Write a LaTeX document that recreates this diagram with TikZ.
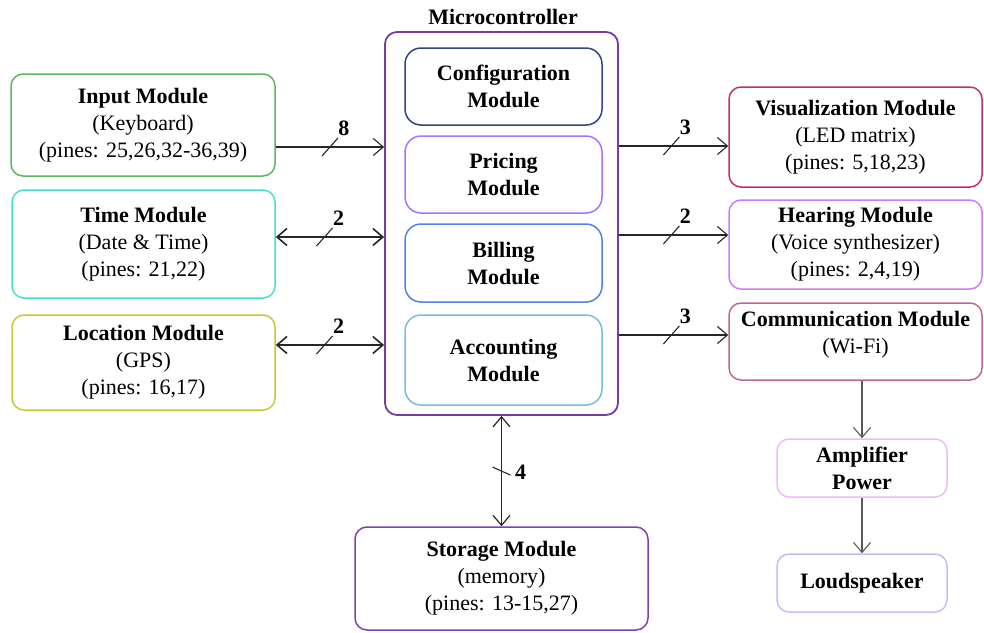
\documentclass[tikz,border=0pt]{standalone}
\usepackage{fontspec}
\setmainfont{Liberation Serif}
\usetikzlibrary{arrows.meta,calc}
\definecolor{cin}{RGB}{95,180,95}
\definecolor{ctime}{RGB}{70,225,205}
\definecolor{cloc}{RGB}{200,200,50}
\definecolor{cmic}{RGB}{120,60,160}
\definecolor{ccfg}{RGB}{55,65,135}
\definecolor{cpri}{RGB}{170,115,250}
\definecolor{cbil}{RGB}{85,130,230}
\definecolor{cacc}{RGB}{115,190,220}
\definecolor{cvis}{RGB}{200,45,105}
\definecolor{chea}{RGB}{200,125,250}
\definecolor{ccom}{RGB}{190,105,145}
\definecolor{csto}{RGB}{130,65,170}
\definecolor{camp}{RGB}{240,185,250}
\definecolor{clou}{RGB}{190,190,250}
\begin{document}
\begin{tikzpicture}[x=0.5pt,y=-0.5pt,font=\fontsize{11}{13.5}\selectfont,
  box/.style={draw,rounded corners=6pt,line width=0.75pt,align=center,inner sep=0pt},
  inbox/.style={box,rounded corners=8pt,minimum width=98.5pt},
  ar/.style={-{Straight Barb[length=5pt,width=8.5pt]},line width=0.55pt,draw=black!85},
  dar/.style={{Straight Barb[length=5pt,width=8.5pt]}-{Straight Barb[length=5pt,width=8.5pt]},line width=0.8pt,draw=black!85},
  gar/.style={ar,draw=black!65},
  slashln/.style={line width=0.55pt,draw=black!85},
  buslbl/.style={font=\fontsize{11}{13}\selectfont\bfseries,inner sep=0pt}]
\useasboundingbox (0,0) rectangle (984,632);

% left modules
\node[box,draw=cin,minimum width=132pt,minimum height=51pt] (inp) at (143,125)
  {\textbf{Input Module}\\(Keyboard)\\(pines: 25,26,32-36,39)};
\node[box,draw=ctime,minimum width=131.5pt,minimum height=54pt] (tim) at (143.5,244)
  {\textbf{Time Module}\\(Date \& Time)\\(pines: 21,22)};
\node[box,draw=cloc,minimum width=131.5pt,minimum height=47.5pt] (loc) at (143.5,362.5)
  {\textbf{Location Module}\\(GPS)\\(pines: 16,17)};

% microcontroller
\node[box,draw=cmic,line width=0.9pt,minimum width=116.5pt,minimum height=191.5pt] (mic) at (501.5,223.5) {};
\node[font=\fontsize{11}{13}\selectfont\bfseries,inner sep=0pt] (miclbl) at (503,17) {Microcontroller};
\node[inbox,draw=ccfg,minimum height=38.5pt] (cfg) at (503.5,86.5) {\textbf{Configuration}\\\textbf{Module}};
\node[inbox,draw=cpri,minimum height=38.5pt] (pri) at (503.5,174.5) {\textbf{Pricing}\\\textbf{Module}};
\node[inbox,draw=cbil,minimum height=39pt] (bil) at (503.5,263) {\textbf{Billing}\\\textbf{Module}};
\node[inbox,draw=cacc,minimum height=45pt] (acc) at (503.5,360) {\textbf{Accounting}\\\textbf{Module}};

% right modules
\node[box,draw=cvis,minimum width=126.5pt,minimum height=50pt] (vis) at (855.5,137)
  {\textbf{Visualization Module}\\(LED matrix)\\(pines: 5,18,23)};
\node[box,draw=chea,minimum width=126.5pt,minimum height=44.5pt] (hea) at (855.5,244.5)
  {\textbf{Hearing Module}\\(Voice synthesizer)\\(pines: 2,4,19)};
\node[box,draw=ccom,minimum width=126.5pt,minimum height=38.5pt] (com) at (855.5,341.5) {};
\node[align=center,inner sep=0pt] (comtxt) at (855.5,335) {\textbf{Communication Module}\\(Wi-Fi)};
\node[box,draw=camp,minimum width=85pt,minimum height=29pt] (amp) at (862,468) {\textbf{Amplifier}\\\textbf{Power}};
\node[box,draw=clou,minimum width=85pt,minimum height=29pt] (lou) at (862,583) {\textbf{Loudspeaker}};

% storage
\node[box,draw=csto,minimum width=146.5pt,minimum height=51.5pt] (sto) at (501.5,578.5)
  {\textbf{Storage Module}\\(memory)\\(pines: 13-15,27)};

% row coordinates
\coordinate (r1) at (0,147);
\coordinate (r2) at (0,237);
\coordinate (r3) at (0,345);
\coordinate (q1) at (0,146);
\coordinate (q2) at (0,235);
\coordinate (q3) at (0,335);

% left connectors
\draw[ar] (inp.east |- r1) -- coordinate[pos=0.5] (s1) (mic.west |- r1);
\draw[dar] (tim.east |- r2) -- coordinate[pos=0.45] (s2) (mic.west |- r2);
\draw[dar] (loc.east |- r3) -- coordinate[pos=0.45] (s3) (mic.west |- r3);
% right connectors
\draw[ar] (mic.east |- q1) -- coordinate[pos=0.48] (s4) (vis.west |- q1);
\draw[ar] (mic.east |- q2) -- coordinate[pos=0.48] (s5) (hea.west |- q2);
\draw[ar] (mic.east |- q3) -- coordinate[pos=0.48] (s6) (com.west |- q3);
% storage
\draw[dar,line width=0.6pt] (mic.south) -- coordinate[pos=0.5] (s7) (sto.north);
% amp chain
\draw[gar] (amp.north |- com.south) -- (amp.north);
\draw[gar] (amp.south) -- (lou.north);

% bus marks
\foreach \s/\t in {s1/8,s2/2,s3/2,s4/3,s5/2,s6/3}{
  \draw[slashln] ($(\s)+(-8,9)$) -- ($(\s)+(8,-9)$);
  \node[buslbl] (l\s) at ($(\s)+(14,-19)$) {\t};
}
\draw[slashln] ($(s7)+(-9,-4)$) -- ($(s7)+(9,4)$);
\node[buslbl] (ls7) at ($(s7)+(19,1)$) {4};
\end{tikzpicture}
\end{document}
